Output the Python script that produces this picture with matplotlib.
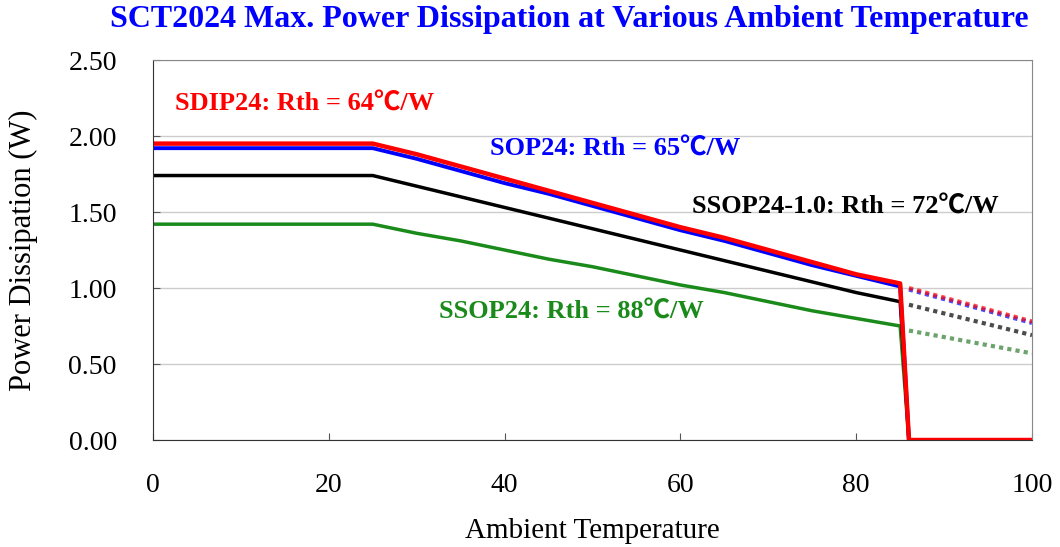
import matplotlib.pyplot as plt
import numpy as np

# Solid curves: ambient temperature (C) vs max power dissipation (W)
temp = [0, 25, 30, 35, 40, 45, 50, 55, 60, 65, 70, 75, 80, 85, 86, 100]
sdip24 = [1.95, 1.95, 1.88, 1.80, 1.72, 1.64, 1.56, 1.48, 1.40, 1.33, 1.25, 1.17, 1.09, 1.03, 0.00, 0.00]
sop24 = [1.92, 1.92, 1.85, 1.77, 1.69, 1.62, 1.54, 1.46, 1.38, 1.31, 1.23, 1.15, 1.08, 1.01, 0.00, 0.00]
ssop24_10 = [1.74, 1.74, 1.67, 1.60, 1.53, 1.46, 1.39, 1.32, 1.25, 1.18, 1.11, 1.04, 0.97, 0.91, 0.00, 0.00]
ssop24 = [1.42, 1.42, 1.36, 1.31, 1.25, 1.19, 1.14, 1.08, 1.02, 0.97, 0.91, 0.85, 0.80, 0.75, 0.00, 0.00]

# Dotted extension beyond the cut-off
ext_temp = [86, 100]
sdip24_ext = [1.00, 0.78]
sop24_ext = [0.99, 0.77]
ssop24_10_ext = [0.89, 0.69]
ssop24_ext = [0.72, 0.57]

serif = ['Liberation Serif', 'Noto Sans CJK JP', 'DejaVu Serif']

fig = plt.figure(figsize=(10.6, 5.47), dpi=100)
ax = fig.add_axes([0.1443, 0.1956, 0.8293, 0.6947])

# dotted parts
ax.plot(ext_temp, ssop24_ext, color='#2e7d2e', lw=3, linestyle=(0, (1, 1)), alpha=0.7)
ax.plot(ext_temp, ssop24_10_ext, color='black', lw=3, linestyle=(0, (1, 1)), alpha=0.7)
ax.plot(ext_temp, sop24_ext, color='blue', lw=3, linestyle=(0, (1, 1)), alpha=0.7)
ax.plot(ext_temp, sdip24_ext, color='red', lw=3, linestyle=(0, (1, 1)), alpha=0.7)

# solid parts
ax.plot(temp, ssop24, color='#1a8a1a', lw=2.5)
ax.plot(temp, ssop24_10, color='black', lw=2.5)
ax.plot(temp, sop24, color='blue', lw=2.8)
ax.plot(temp, sdip24, color='red', lw=3.2)

ax.set_xlim(0, 100)
ax.set_ylim(0, 2.5)
ax.set_xticks([0, 20, 40, 60, 80, 100])
ax.set_yticks([0, 0.5, 1.0, 1.5, 2.0, 2.5])
ax.set_yticklabels(['0.00', '0.50', '1.00', '1.50', '2.00', '2.50'])
ax.grid(axis='y', color='#cccccc', lw=1)
ax.set_axisbelow(True)
ax.tick_params(direction='in', length=5, color='#555555', labelsize=20)
ax.tick_params(axis='y', pad=26)
ax.tick_params(axis='x', pad=24)
for lbl in ax.get_xticklabels() + ax.get_yticklabels():
    lbl.set_family(serif)
for side in ['top', 'right']:
    ax.spines[side].set_color('#888888')
for side in ['left', 'bottom']:
    ax.spines[side].set_color('#333333')

ax.set_xlabel('Ambient Temperature', fontsize=21, family=serif, labelpad=14)
ax.set_ylabel('Power Dissipation (W)', fontsize=22, family=serif, labelpad=22)

fig.suptitle('SCT2024 Max. Power Dissipation at Various Ambient Temperature',
             x=0.537, y=0.99, fontsize=23, fontweight='bold', color='blue', family=serif)

ax.text(2.5, 2.17, 'SDIP24: Rth = 64℃/W', color='red', fontsize=19, fontweight='bold', family=serif)
ax.text(38.3, 1.87, 'SOP24: Rth = 65℃/W', color='blue', fontsize=19, fontweight='bold', family=serif)
ax.text(61.3, 1.49, 'SSOP24-1.0: Rth = 72℃/W', color='black', fontsize=19, fontweight='bold', family=serif)
ax.text(32.5, 0.80, 'SSOP24: Rth = 88℃/W', color='#1a8a1a', fontsize=19, fontweight='bold', family=serif)

plt.savefig('out.png', dpi=100)
